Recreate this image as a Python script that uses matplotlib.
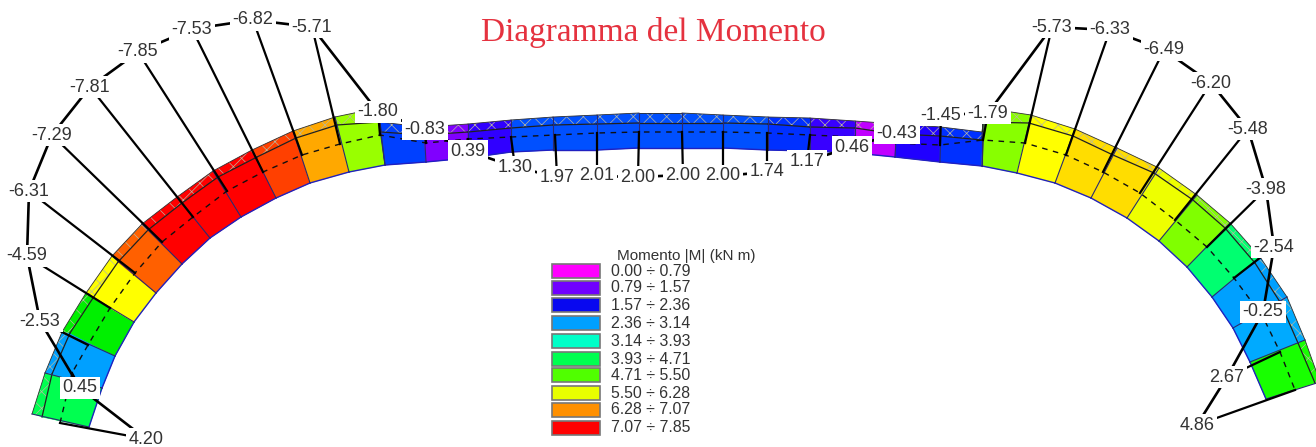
import matplotlib
matplotlib.use("Agg")
import matplotlib.pyplot as plt
from matplotlib.patches import Polygon, Rectangle

# Arch geometry (pixel frame of the drawing), one entry per section
inner_x = [89,102,115,134,156,182,210,241,276,310,349,385,385,426,468,511,553,597,639,682,723,768,810,855,895,940,982,982,1017,1055,1091,1127,1159,1187,1212,1233,1250,1266]
inner_y = [427,388,356,322,293,264,238,217,198,183,172,165,165,162,158,152,150,150,148,148,148,150,151,153,157,162,166,166,173,183,198,218,241,267,297,328,362,399]
band_x = [42,52,70,93,118,148,182,218,257,296,337,380,381,424,468,511,553,597,639,682,723,768,810,855,896,940,982,983,1029,1073,1113,1154,1193,1225,1255,1280,1298,1315]
band_y = [417,374,333,298,262,230,203,177,157,138,125,122,132,135,132,128,125,124,123,123,123,124,127,128,134,136,140,122,123,136,155,173,200,228,263,302,343,383]
outer_x = [32,45,62,86,112,142,177,213,252,293,335,378,379,424,468,511,553,597,639,682,723,768,810,855,897,941,982,985,1031,1075,1117,1159,1197,1230,1260,1287,1305,1320]
outer_y = [414,373,332,293,256,224,197,171,150,131,117,108,122,127,124,120,117,115,113,113,115,117,118,121,124,127,132,108,115,129,148,168,195,223,257,297,340,382]
segment_colors = ["#00ff50","#00a0ff","#00f000","#ffff00","#ff6000","#ff0000","#ff0000","#ff0000","#ff4000","#ffa800",
                  "#99ff00","#0040ff","#0040ff","#8000ff","#3000ff","#0050ff","#0050ff","#0050ff","#0050ff","#0050ff","#0050ff",
                  "#0030ff","#3800ff","#c000ff","#2000ff","#0030ff","#0030ff","#88ff00","#ffff00","#ffdd00","#ffdd00","#eeff00",
                  "#80ff00","#00ff70","#00a0ff","#00aaff","#18ff00"]

# Moment values with their label positions and their points on the arch axis
moments = [4.20,0.45,-2.53,-4.59,-6.31,-7.29,-7.81,-7.85,-7.53,-6.82,-5.71,-1.80,-0.83,0.39,1.30,1.97,2.01,2.00,
           2.00,2.00,1.74,1.17,0.46,-0.43,-1.45,-1.79,-5.73,-6.33,-6.49,-6.20,-5.48,-3.98,-2.54,-0.25,2.67,4.86]
label_x = [146,80,40,27,29,52,90,138,192,253,312,378,425,468,515,557,597,638,683,723,767,807,852,897,941,988,1052,1110,1164,1211,1248,1266,1274,1263,1227,1197]
label_y = [439,388,321,256,191,135,87,52,29,20,27,112,129,151,167,177,176,177,175,176,172,161,147,133,115,113,27,30,50,83,129,189,247,312,377,425]
axis_x = [60,72,88,110,135,162,193,227,263,302,340,380,426,468,511,555,597,639,682,723,767,810,855,895,940,983,1025,1066,1103,1140,1175,1207,1234,1263,1280,1295]
axis_y = [423,373,345,308,273,242,217,191,172,155,144,135,143,139,137,135,133,132,132,132,133,135,137,143,145,140,143,155,172,193,220,247,278,317,352,390]

legend_title = "Momento |M| (kN m)"
legend_labels = ["0.00 ÷ 0.79","0.79 ÷ 1.57","1.57 ÷ 2.36","2.36 ÷ 3.14","3.14 ÷ 3.93",
                 "3.93 ÷ 4.71","4.71 ÷ 5.50","5.50 ÷ 6.28","6.28 ÷ 7.07","7.07 ÷ 7.85"]
legend_colors = ["#ff00ff","#7000ff","#0808f0","#00a0ff","#00ffc8","#00ff50","#50ff00","#e8ff00","#ff9000","#ff0000"]
legend_y = [271,288,305,323,341,359,375,393,410,428]
title = "Diagramma del Momento"

plt.rcParams["font.family"] = ["Liberation Sans", "DejaVu Sans"]
plt.rcParams["hatch.linewidth"] = 0.5
fig = plt.figure(figsize=(13.16, 4.47), dpi=100, facecolor="white")
ax = fig.add_axes([0, 0, 1, 1])
ax.set_xlim(0, 1316)
ax.set_ylim(447, 0)
ax.axis("off")

for i, c in enumerate(segment_colors):
    block = [(inner_x[i], inner_y[i]), (inner_x[i+1], inner_y[i+1]), (band_x[i+1], band_y[i+1]), (band_x[i], band_y[i])]
    strip = [(band_x[i], band_y[i]), (band_x[i+1], band_y[i+1]), (outer_x[i+1], outer_y[i+1]), (outer_x[i], outer_y[i])]
    ax.add_patch(Polygon(block, closed=True, facecolor=c, edgecolor=c, linewidth=0.5, zorder=2))
    ax.add_patch(Polygon(strip, closed=True, facecolor=c, edgecolor="#b8b8a0", hatch="xx", linewidth=0, zorder=2))
    ax.plot([inner_x[i], inner_x[i+1]], [inner_y[i], inner_y[i+1]], color="#2020c0", lw=1.0, zorder=3)
    ax.plot([band_x[i], band_x[i+1]], [band_y[i], band_y[i+1]], color="#202020", lw=0.9, zorder=3)
    ax.plot([outer_x[i], outer_x[i+1]], [outer_y[i], outer_y[i+1]], color="#303030", lw=0.6, zorder=3)
for i in range(len(inner_x)):
    ax.plot([inner_x[i], outer_x[i]], [inner_y[i], outer_y[i]], color="#2a2a70", lw=0.8, zorder=3)

ax.plot(axis_x, axis_y, color="#101010", lw=1.0, ls=(0, (4, 4)), zorder=4)
ax.plot(label_x, label_y, color="black", lw=1.9, zorder=5)
for lx, ly, ax_x, ax_y in zip(label_x, label_y, axis_x, axis_y):
    ax.plot([lx, ax_x], [ly, ax_y], color="black", lw=1.6, zorder=5)
for v, lx, ly in zip(moments, label_x, label_y):
    ax.text(lx, ly, f"{v:.2f}", ha="center", va="center", fontsize=13, color="#333333", zorder=6,
            bbox=dict(facecolor="white", edgecolor="none", pad=1.8))

ax.text(653, 33, title, ha="center", va="center", fontsize=24, color="#e5323f", family="Liberation Serif")

ax.text(686, 256, legend_title, ha="center", va="center", fontsize=11, color="#333333")
for lab, c, y in zip(legend_labels, legend_colors, legend_y):
    ax.add_patch(Rectangle((552, y - 7), 48, 14, facecolor=c, edgecolor="#777777", linewidth=1.2))
    ax.text(611, y, lab, ha="left", va="center", fontsize=11.4, color="#333333")

fig.savefig("out.png", dpi=100)
